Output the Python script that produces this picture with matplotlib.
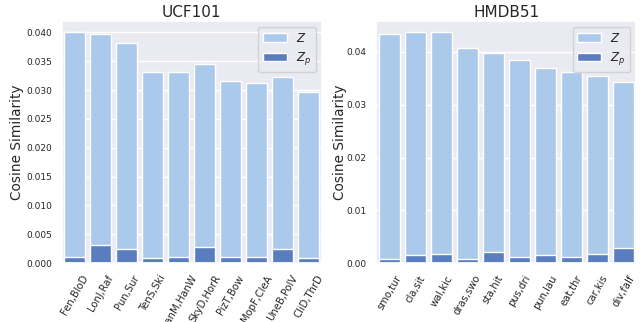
import matplotlib
matplotlib.use("Agg")
import matplotlib.pyplot as plt
import seaborn as sns
import pandas as pd

ucf_labels = ["Fen,BloD", "LonJ,Raf", "Pun,Sur", "TenS,Ski", "HanM,HanW",
              "SkyD,HorR", "PizT,Bow", "MopF,CleA", "UneB,PolV", "CliD,ThrD"]
ucf_z = [0.0400, 0.0398, 0.0382, 0.0331, 0.0332, 0.0346, 0.0316, 0.0312, 0.0323, 0.0297]
ucf_zp = [0.0010, 0.0032, 0.0024, 0.0008, 0.0011, 0.0028, 0.0011, 0.0010, 0.0025, 0.0008]

hmdb_labels = ["smo,tur", "cla,sit", "wal,kic", "dras,swo", "sta,hit",
               "pus,dri", "pun,lau", "eat,thr", "car,kis", "div,falf"]
hmdb_z = [0.04335, 0.0437, 0.0437, 0.0407, 0.0399, 0.0384, 0.0369, 0.0363, 0.0354, 0.0344]
hmdb_zp = [0.0008, 0.00145, 0.0018, 0.0008, 0.0021, 0.0012, 0.0016, 0.0012, 0.0018, 0.0028]

sns.set_theme(style="darkgrid")
plt.rcParams['font.family'] = ['DejaVu Sans']

fig, axes = plt.subplots(1, 2, figsize=(6.44, 3.22), dpi=100)
fig.subplots_adjust(left=0.096, right=0.988, top=0.935, bottom=0.183, wspace=0.21)

pastel_b = sns.color_palette("pastel")[0]
muted_b = sns.color_palette("muted")[0]

for ax, title, labels, z, zp, ylx in [
    (axes[0], "UCF101", ucf_labels, ucf_z, ucf_zp, -0.144),
    (axes[1], "HMDB51", hmdb_labels, hmdb_z, hmdb_zp, -0.114),
]:
    df = pd.DataFrame({"pair": labels, "z": z, "zp": zp})
    sns.barplot(data=df, x="pair", y="z", color=pastel_b, label="$Z$", ax=ax)
    sns.barplot(data=df, x="pair", y="zp", color=muted_b, label="$Z_p$", ax=ax)
    ax.set_title(title, fontsize=11, pad=3)
    ax.set_xlabel("")
    ax.set_ylabel("Cosine Similarity", fontsize=9.8)
    ax.yaxis.set_label_coords(ylx, 0.5)
    ax.tick_params(axis="y", labelsize=6.5, pad=1)
    ax.tick_params(axis="x", labelsize=7.2, pad=1.5)
    for t in ax.get_xticklabels():
        t.set_rotation(60)
        t.set_ha("center")
    ax.legend(loc="upper right", fontsize=8.5, frameon=True)
    ax.set_xlim(-0.5, len(labels) - 0.5)

fig.savefig("out.png", dpi=100)
